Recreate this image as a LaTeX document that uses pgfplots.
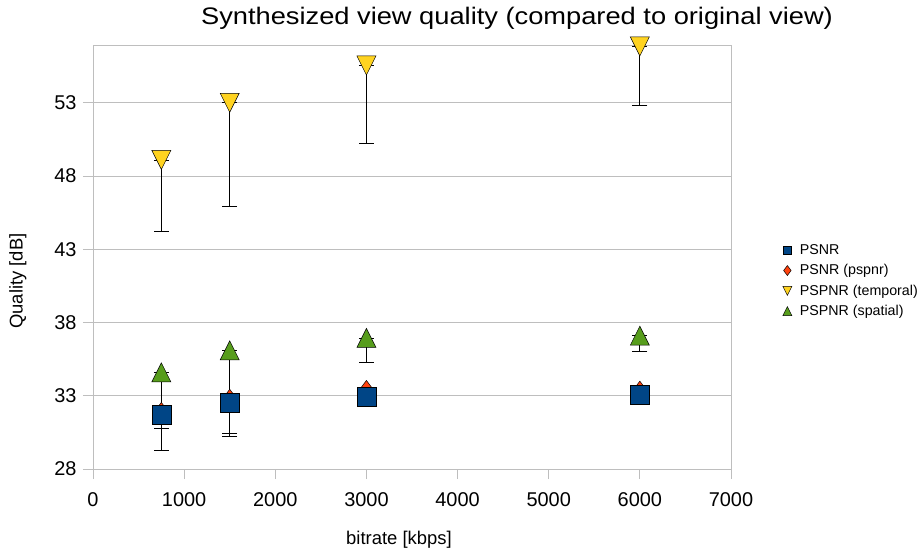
\documentclass[border=0pt]{standalone}
\usepackage{pgfplots}
\pgfplotsset{compat=1.18}
\usepackage{pgfplotstable}
\usepackage{fontspec}
\setmainfont{Liberation Sans}

\definecolor{psnrblue}{HTML}{004586}
\definecolor{pspnrred}{HTML}{FF420E}
\definecolor{tempyellow}{HTML}{FFD320}
\definecolor{spatgreen}{HTML}{579D1C}
\definecolor{gridgray}{HTML}{BEBEBE}

% triangles that fit a square box centred on the value
\pgfdeclareplotmark{triup}{%
  \pgfpathmoveto{\pgfqpoint{0pt}{\pgfplotmarksize}}%
  \pgfpathlineto{\pgfqpoint{\pgfplotmarksize}{-\pgfplotmarksize}}%
  \pgfpathlineto{\pgfqpoint{-\pgfplotmarksize}{-\pgfplotmarksize}}%
  \pgfpathclose\pgfusepathqfillstroke}
\pgfdeclareplotmark{tridown}{%
  \pgfpathmoveto{\pgfqpoint{0pt}{-\pgfplotmarksize}}%
  \pgfpathlineto{\pgfqpoint{\pgfplotmarksize}{\pgfplotmarksize}}%
  \pgfpathlineto{\pgfqpoint{-\pgfplotmarksize}{\pgfplotmarksize}}%
  \pgfpathclose\pgfusepathqfillstroke}
\pgfdeclareplotmark{empty}{}

% error bars drawn on their own, after the marks of the series
\pgfplotsset{
  ebar/.style={forget plot, only marks, mark=empty,
    error bars/.cd, y dir=both, y explicit,
    error mark=-,
    error bar style={black, line width=0.8bp},
    error mark options={rotate=90, black, mark size=7.5bp, line width=0.8bp}},
}

\pgfplotstableread{
x    y     ep    em
750  31.70 0.00  2.45
1500 32.55 0.25  2.30
3000 32.95 0.05  0.70
6000 33.10 0.00  0.50
}\psnr
\pgfplotstableread{
x    y     ep    em
750  32.00 0.00  2.70
1500 32.90 0.00  2.50
3000 33.50 0.00  1.20
6000 33.45 0.00  0.80
}\pspnr
\pgfplotstableread{
x    y     ep    em
750  49.10 0.00  4.90
1500 53.00 0.00  7.10
3000 55.55 0.00  5.35
6000 56.85 0.00  4.05
}\temporal
\pgfplotstableread{
x    y     ep    em
750  34.60 0.00  3.80
1500 36.10 0.00  3.10
3000 36.95 0.00  1.70
6000 37.10 0.00  1.10
}\spatial

\begin{document}
\begin{tikzpicture}
\useasboundingbox (-93bp,-88bp) rectangle (830bp,469bp);
\begin{axis}[
  at={(0,0)}, anchor=south west,
  scale only axis, width=638bp, height=423.3bp,
  xmin=0, xmax=7000, ymin=28, ymax=56.9,
  xtick={0,1000,...,7000}, ytick={28,33,...,53},
  /pgf/number format/assume math mode=true,
  scaled x ticks=false,
  xticklabel style={/pgf/number format/1000 sep={}, yshift=-10bp},
  yticklabel style={xshift=-3bp},
  ticklabel style={font=\fontsize{20}{24}\selectfont},
  tick align=outside, major tick length=10bp,
  tick style={gridgray, line width=0.8bp},
  xtick pos=bottom, ytick pos=left,
  axis line style={gridgray, line width=0.8bp},
  ymajorgrids, grid style={gridgray, line width=0.8bp},
  clip=false,
  title={Synthesized view quality (compared to original view)},
  title style={at={(0.6646,1.051)}, anchor=center, xscale=1.14,
    font=\fontsize{24}{28}\selectfont},
  xlabel={bitrate [kbps]},
  xlabel style={at={(0.4796,-0.1677)}, anchor=center, font=\fontsize{18.5}{22}\selectfont},
  ylabel={Quality [dB]},
  ylabel style={at={(-0.1176,0.444)}, anchor=center, font=\fontsize{18.5}{22}\selectfont},
  legend style={at={(1.081,0.535)}, anchor=north west, draw=none, fill=none,
    font=\fontsize{14.3}{16}\selectfont, row sep=4.5bp, inner sep=0pt,
    /tikz/every odd column/.append style={column sep=6bp}},
  legend cell align=left,
]
\addlegendimage{only marks, mark=square*, mark size=4bp, mark options={fill=psnrblue, draw=black, line width=0.5bp}}
\addlegendentry{PSNR}
\addlegendimage{only marks, mark=diamond*, mark size=5bp, mark options={fill=pspnrred, draw=black, line width=0.5bp}}
\addlegendentry{PSNR (pspnr)}
\addlegendimage{only marks, mark=tridown, mark size=4.5bp, mark options={fill=tempyellow, draw=black, line width=0.5bp}}
\addlegendentry{PSPNR (temporal)}
\addlegendimage{only marks, mark=triup, mark size=4.5bp, mark options={fill=spatgreen, draw=black, line width=0.5bp}}
\addlegendentry{PSPNR (spatial)}

\addplot+[forget plot, only marks, mark=diamond*, mark size=8bp,
  mark options={fill=pspnrred, draw=black, line width=0.5bp}]
  table[x=x, y=y] {\pspnr};
\addplot[ebar] table[x=x, y=y, y error plus=ep, y error minus=em] {\pspnr};
\addplot+[forget plot, only marks, mark=triup, mark size=9.5bp,
  mark options={fill=spatgreen, draw=black, line width=0.5bp}]
  table[x=x, y=y] {\spatial};
\addplot[ebar] table[x=x, y=y, y error plus=ep, y error minus=em] {\spatial};
\addplot+[forget plot, only marks, mark=tridown, mark size=9.5bp,
  mark options={fill=tempyellow, draw=black, line width=0.5bp}]
  table[x=x, y=y] {\temporal};
\addplot[ebar] table[x=x, y=y, y error plus=ep, y error minus=em] {\temporal};
\addplot+[forget plot, only marks, mark=square*, mark size=9.5bp,
  mark options={fill=psnrblue, draw=black, line width=0.5bp}]
  table[x=x, y=y] {\psnr};
\addplot[ebar] table[x=x, y=y, y error plus=ep, y error minus=em] {\psnr};
\end{axis}
\end{tikzpicture}
\end{document}
